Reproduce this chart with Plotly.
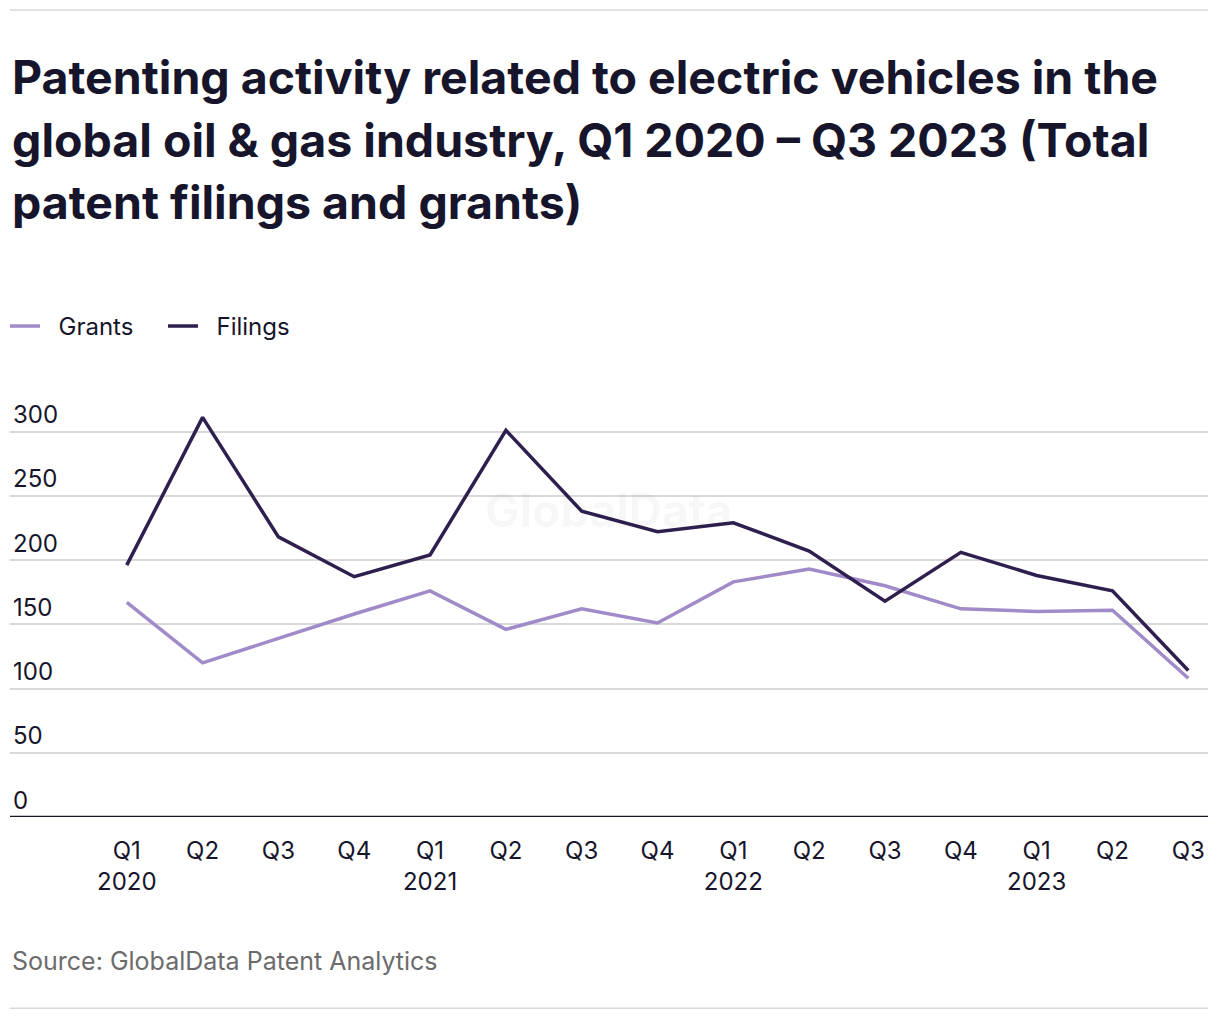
import plotly.graph_objects as go

quarters = ["Q1<br>2020", "Q2", "Q3", "Q4", "Q1<br>2021", "Q2", "Q3", "Q4",
            "Q1<br>2022", "Q2", "Q3", "Q4", "Q1<br>2023", "Q2", "Q3"]
grants = [167, 120, 139, 158, 176, 146, 162, 151, 183, 193, 180, 162, 160, 161, 108]
filings = [196, 311, 218, 187, 204, 301, 238, 222, 229, 207, 168, 206, 188, 176, 114]
y_ticks = [0, 50, 100, 150, 200, 250, 300]

title_lines = ["Patenting activity related to electric vehicles in the",
               "global oil &amp; gas industry, Q1 2020 – Q3 2023 (Total",
               "patent filings and grants)"]
source_text = "Source: GlobalData Patent Analytics"

W, H = 1220, 1020
FONT = "Inter"
DARK = "#16152b"
NB = "\u00a0\u00a0"

idx = list(range(len(quarters)))

fig = go.Figure()
fig.add_trace(go.Scatter(x=idx, y=grants, mode="lines", name=NB + "Grants",
                         line=dict(color="#a08bc8", width=3.5)))
fig.add_trace(go.Scatter(x=idx, y=filings, mode="lines", name=NB + "Filings",
                         line=dict(color="#2e1f4f", width=3.5)))

plot_left, plot_right = 10, 1208
plot_bottom = 817
ymax = 330
px_per_unit = (817 - 432) / 300.0
plot_top = plot_bottom - ymax * px_per_unit
ph = plot_bottom - plot_top
pw = plot_right - plot_left


def py(pix):
    """paper y for a pixel row"""
    return (plot_bottom - pix) / ph


annotations = []
for i, line in enumerate(title_lines):
    annotations.append(dict(text=line, xref="paper", yref="paper", x=0, xanchor="left",
                            y=py(48 + i * 62.5), yanchor="top", align="left", showarrow=False,
                            font=dict(family=FONT, size=46.5, color=DARK, weight="bold")))
annotations += [
    dict(text=source_text, xref="paper", yref="paper", x=0, xanchor="left",
         y=py(961), yanchor="middle", align="left", showarrow=False,
         font=dict(family=FONT, size=25, color="#6b6b6b")),
    dict(text="GlobalData", xref="paper", yref="paper", x=0.5, xanchor="center",
         y=py(510), yanchor="middle", showarrow=False,
         font=dict(family=FONT, size=46, color="rgba(0,0,0,0.04)", weight="bold")),
]

fig.update_layout(
    width=W, height=H,
    paper_bgcolor="white", plot_bgcolor="white",
    margin=dict(l=plot_left, r=W - plot_right, t=plot_top, b=H - plot_bottom, pad=0, autoexpand=False),
    font=dict(family=FONT, color=DARK, size=24),
    showlegend=True,
    legend=dict(orientation="h", x=-5 / pw, xanchor="left", y=py(327),
                yanchor="middle", font=dict(size=24, color=DARK),
                entrywidth=113, entrywidthmode="pixels",
                traceorder="normal", bgcolor="rgba(0,0,0,0)"),
    xaxis=dict(range=[-1.54, 14.26], tickmode="array", tickvals=idx, ticktext=quarters,
               showgrid=False, zeroline=False, showline=False,
               ticks="outside", ticklen=12, tickcolor="rgba(0,0,0,0)",
               tickfont=dict(size=24, color=DARK), fixedrange=True),
    yaxis=dict(range=[0, ymax], tickmode="array", tickvals=y_ticks,
               ticklabelposition="inside top", showgrid=True, gridcolor="#d9d9d9",
               gridwidth=1.5, zeroline=False, showline=False,
               tickfont=dict(size=24, color=DARK), fixedrange=True),
    shapes=[
        dict(type="line", xref="paper", yref="y", x0=0, x1=1, y0=0, y1=0,
             line=dict(color=DARK, width=2.5)),
        dict(type="line", xref="paper", yref="paper", x0=0, x1=1,
             y0=py(11), y1=py(11), line=dict(color="#d9d9d9", width=1.5)),
        dict(type="line", xref="paper", yref="paper", x0=0, x1=1,
             y0=py(1008), y1=py(1008), line=dict(color="#d9d9d9", width=1.5)),
    ],
    annotations=annotations,
)

fig.write_html("out.html", config={"displayModeBar": False},
               post_script="document.body.style.margin='0';")
